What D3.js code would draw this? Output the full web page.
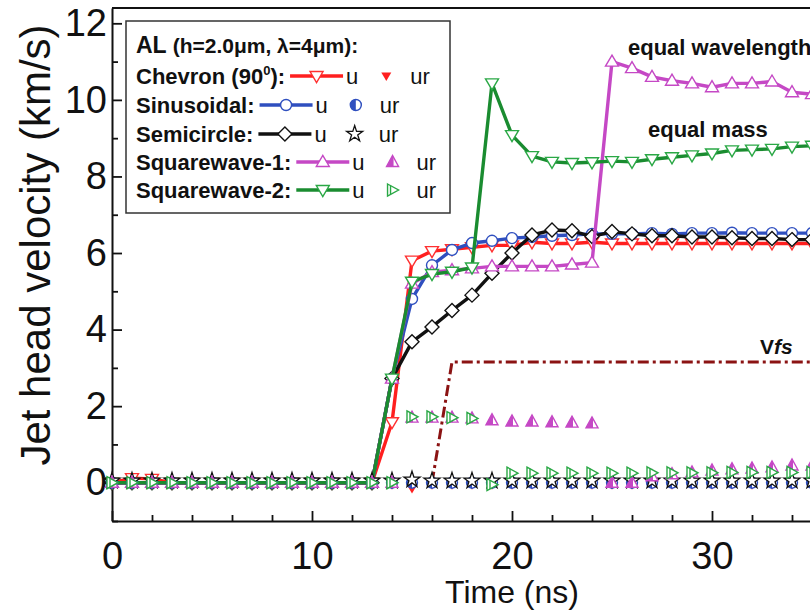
<!DOCTYPE html>
<html>
<head>
<meta charset="utf-8">
<script src="https://cdn.jsdelivr.net/npm/d3@7"></script>
<style>
  body { margin: 0; background: #fff; }
  svg { display: block; font-family: Arial, "Liberation Sans", sans-serif; }
</style>
</head>
<body>
<svg id="chart" width="810" height="611"></svg>
<script>
//-------------------- data ---------------
// time steps, ns
var time = [0,1,2,3,4,5,6,7,8,9,10,11,12,13,14,15,16,17,18,19,20,21,22,23,24,25,26,27,28,29,30,31,32,33,34,35];

// jet head velocity u (km/s)
var chevronU     = [0,0.12,0.1,0,0,0,0,0,0,0,0,0,0,0, 1.58,5.8,6.05,6.1,6.15,6.2,6.2,6.28,6.25,6.25,6.28,6.25,6.25,6.25,6.25,6.25,6.25,6.25,6.25,6.25,6.25,6.25];
var sinusoidalU  = [0,0,0,0,0,0,0,0,0,0,0,0,0,0, 2.72,4.8,5.68,6.08,6.26,6.32,6.39,6.42,6.45,6.47,6.5,6.5,6.5,6.52,6.5,6.52,6.52,6.53,6.52,6.52,6.52,6.52];
var semicircleU  = [0,0,0,0,0,0,0,0,0,0,0,0,0,0, 2.72,3.68,4.07,4.5,4.9,5.47,6.0,6.47,6.6,6.58,6.43,6.56,6.5,6.45,6.45,6.42,6.42,6.4,6.38,6.38,6.35,6.35];
var squarewave1U = [0,0,0,0,0,0,0,0,0,0,0,0,0,0, 2.72,5.2,5.5,5.55,5.6,5.65,5.65,5.65,5.65,5.7,5.75,11.0,10.83,10.6,10.5,10.43,10.33,10.43,10.43,10.48,10.2,10.15];
var squarewave2U = [0,0,0,0,0,0,0,0,0,0,0,0,0,0, 2.72,5.25,5.45,5.51,5.62,10.43,9.08,8.53,8.38,8.35,8.37,8.4,8.38,8.45,8.5,8.55,8.6,8.68,8.7,8.72,8.78,8.8];

// ur (km/s)
var chevronUr     = [-0.05,-0.05,-0.05,-0.05,-0.05,-0.05,-0.05,-0.05,-0.05,-0.05,-0.05,-0.05,-0.05,-0.05,-0.05,-0.15,-0.05,-0.05,-0.05,-0.05,-0.05,-0.05,-0.05,-0.05,-0.05,-0.05,-0.05,-0.05,-0.05,-0.05,-0.05,-0.05,-0.05,-0.05,-0.05,-0.05];
var sinusoidalUr  = [0,0,0,0,0,0,0,0,0,0,0,0,0,0,0,0,0,0,0,0,0,0,0,0,0,0,0,0,0,0,0,0,0,0,0,0];
var semicircleUr  = [0.05,0.05,0.05,0.05,0.05,0.05,0.05,0.05,0.05,0.05,0.05,0.05,0.05,0.05,0.05,0.08,0.05,0.05,0.05,0.05,0.05,0.05,0.05,0.05,0.05,0.05,0.05,0.05,0.05,0.05,0.05,0.05,0.05,0.05,0.05,0.05];
var squarewave1Ur = [0,0,0,0,0,0,0,0,0,0,0,0,0,0,0, 1.7,1.7,1.7,1.68,1.63,1.6,1.6,1.58,1.57,1.55,0,0,0.17,0.22,0.27,0.32,0.35,0.37,0.4,0.45,0.45];
var squarewave2Ur = [0,0,0,0,0,0,0,0,0,0,0,0,0,0,0, 1.72,1.72,1.7,1.68,-0.05,0.25,0.25,0.25,0.25,0.25,0.25,0.25,0.26,0.26,0.26,0.26,0.27,0.27,0.27,0.27,0.27];

// free-surface velocity Vfs
var vfsTime  = [16, 17, 40];
var vfsValue = [0, 3.15, 3.15];

var xTicks = [0, 10, 20, 30];
var xMinor = [2,4,6,8,12,14,16,18,22,24,26,28,32,34,36,38];
var yTicks = [0, 2, 4, 6, 8, 10, 12];
var yMinor = [-1, 1, 3, 5, 7, 9, 11];

//-------------------- setup ---------------
var svg = d3.select("#chart");
var x = d3.scaleLinear().domain([0, 40]).range([112, 912]);
var y = d3.scaleLinear().domain([-1, 12.4]).range([521, 8]);

var RED = "#ff1f1f", BLUE = "#2f4fbf", BLACK = "#111111",
    MAGENTA = "#c548c5", GREEN = "#1a8c30", GREEN_M = "#2aa845", VFS = "#8b1313";

//-------------------- markers ---------------
function marker(g, kind, color) {
  if (kind == "triDown") {
    g.append("path").attr("d", "M-6.5,-4.5L6.5,-4.5L0,6.5Z")
      .attr("fill", "#fff").attr("stroke", color).attr("stroke-width", 1.4);
  } else if (kind == "triUp") {
    g.append("path").attr("d", "M-6.5,4.5L6.5,4.5L0,-6.5Z")
      .attr("fill", "#fff").attr("stroke", color).attr("stroke-width", 1.4);
  } else if (kind == "circle") {
    g.append("circle").attr("r", 5.5)
      .attr("fill", "#fff").attr("stroke", color).attr("stroke-width", 1.4);
  } else if (kind == "diamond") {
    g.append("path").attr("d", "M0,-7L7,0L0,7L-7,0Z")
      .attr("fill", "#fff").attr("stroke", color).attr("stroke-width", 1.4);
  } else if (kind == "triDownFill") {
    g.append("path").attr("d", "M-5,-3.5L5,-3.5L0,5Z").attr("fill", color);
  } else if (kind == "circleHalf") {
    g.append("circle").attr("r", 5.5)
      .attr("fill", "#fff").attr("stroke", color).attr("stroke-width", 1.4);
    g.append("path").attr("d", "M0,-5.5A5.5,5.5 0 0 0 0,5.5Z").attr("fill", color);
  } else if (kind == "star") {
    g.append("path").attr("d", d3.symbol().type(d3.symbolStar).size(80)())
      .attr("fill", "#fff").attr("stroke", color).attr("stroke-width", 1.3);
  } else if (kind == "triUpHalf") {
    g.append("path").attr("d", "M-6,4.5L6,4.5L0,-6.5Z")
      .attr("fill", "#fff").attr("stroke", color).attr("stroke-width", 1.4);
    g.append("path").attr("d", "M-6,4.5L1,4.5L1,-5L0,-6.5Z").attr("fill", color);
  } else if (kind == "triRight") {
    g.append("path").attr("d", "M-5,-6L6,0L-5,6Z")
      .attr("fill", "#fff").attr("stroke", color).attr("stroke-width", 1.4);
    g.append("path").attr("d", "M-2,-4.3L-2,4.3").attr("stroke", color).attr("stroke-width", 1.4);
  }
}

//-------------------- axes ---------------
var axisColor = "#111";

svg.append("g").attr("class", "axis")
    .attr("transform", "translate(0," + y(-1) + ")")
    .call(d3.axisBottom(x).tickValues(xTicks).tickSize(-10).tickSizeOuter(0).tickPadding(21));
svg.append("g")
    .attr("transform", "translate(0," + y(-1) + ")")
    .call(d3.axisBottom(x).tickValues(xMinor).tickSize(-6).tickFormat(""))
    .call(g => g.select(".domain").remove());

svg.append("g").attr("class", "axis")
    .attr("transform", "translate(" + x(0) + ",0)")
    .call(d3.axisLeft(y).tickValues(yTicks).tickSize(-10).tickSizeOuter(0).tickPadding(5));
svg.append("g")
    .attr("transform", "translate(" + x(0) + ",0)")
    .call(d3.axisLeft(y).tickValues(yMinor).tickSize(-6).tickFormat(""))
    .call(g => g.select(".domain").remove());

// frame top / right
svg.append("line").attr("x1", x(0)).attr("x2", x(40)).attr("y1", y(12.4)).attr("y2", y(12.4))
   .attr("stroke", axisColor).attr("stroke-width", 2);
svg.append("line").attr("x1", x(40)).attr("x2", x(40)).attr("y1", y(12.4)).attr("y2", y(-1))
   .attr("stroke", axisColor).attr("stroke-width", 2);

svg.selectAll("g line").attr("stroke", axisColor).attr("stroke-width", 1.8);
svg.selectAll(".domain").attr("stroke", axisColor).attr("stroke-width", 2);
svg.selectAll(".axis text").style("font-size", "38px")
   .style("font-family", "Arial, 'Liberation Sans', sans-serif").attr("fill", "#111");

// axis titles
svg.append("text")
    .attr("transform", "translate(50,245) rotate(-90)")
    .style("text-anchor", "middle").style("font-size", "42px").attr("fill", "#111")
    .text("Jet head velocity (km/s)");
svg.append("text")
    .attr("x", x(20)).attr("y", 603)
    .style("text-anchor", "middle").style("font-size", "32px").attr("fill", "#111")
    .text("Time (ns)");

//-------------------- series ---------------
var uSeries = [
  {name: "Chevron (90", values: chevronU, color: RED, mcolor: "#ff3030", kind: "triDown"},
  {name: "Sinusoidal:", values: sinusoidalU, color: BLUE, mcolor: BLUE, kind: "circle"},
  {name: "Semicircle:", values: semicircleU, color: BLACK, mcolor: BLACK, kind: "diamond"},
  {name: "Squarewave-1:", values: squarewave1U, color: MAGENTA, mcolor: MAGENTA, kind: "triUp"},
  {name: "Squarewave-2:", values: squarewave2U, color: GREEN, mcolor: GREEN_M, kind: "triDown"}
];
var urSeries = [
  {values: chevronUr, color: RED, kind: "triDownFill"},
  {values: sinusoidalUr, color: BLUE, kind: "circleHalf"},
  {values: semicircleUr, color: BLACK, kind: "star"},
  {values: squarewave1Ur, color: MAGENTA, kind: "triUpHalf"},
  {values: squarewave2Ur, color: GREEN_M, kind: "triRight"}
];

var line = d3.line()
    .x(function(d, i) { return x(time[i]); })
    .y(function(d) { return y(d); });

// Vfs dash-dot
svg.append("path")
    .datum(vfsValue)
    .attr("d", d3.line().x(function(d, i) { return x(vfsTime[i]); }).y(function(d) { return y(d); }))
    .attr("fill", "none").attr("stroke", VFS).attr("stroke-width", 3)
    .attr("stroke-dasharray", "11,4,3,4");

uSeries.forEach(function(s) {
  var g = svg.append("g");
  g.append("path").datum(s.values).attr("d", line)
    .attr("fill", "none").attr("stroke", s.color).attr("stroke-width", 3.4)
    .attr("stroke-linejoin", "round");
  s.values.forEach(function(v, i) {
    marker(g.append("g").attr("transform", "translate(" + x(time[i]) + "," + y(v) + ")"), s.kind, s.mcolor);
  });
});

urSeries.forEach(function(s) {
  var g = svg.append("g");
  s.values.forEach(function(v, i) {
    marker(g.append("g").attr("transform", "translate(" + x(time[i]) + "," + y(v) + ")"), s.kind, s.color);
  });
});

// annotations
svg.append("text").attr("x", 628).attr("y", 55)
   .style("font-size", "22px").style("font-weight", "bold").attr("fill", "#111")
   .text("equal wavelength");
svg.append("text").attr("x", 648).attr("y", 137)
   .style("font-size", "22px").style("font-weight", "bold").attr("fill", "#111")
   .text("equal mass");
var vfsLabel = svg.append("text").attr("x", 760).attr("y", 354)
   .style("font-size", "21px").style("font-weight", "bold").attr("fill", "#111");
vfsLabel.append("tspan").text("V");
vfsLabel.append("tspan").style("font-style", "italic").text("fs");

//-------------------- legend ---------------
var legend = svg.append("g");
legend.append("rect").attr("x", 126).attr("y", 21).attr("width", 324).attr("height", 192)
  .attr("fill", "#fff").attr("stroke", "#333").attr("stroke-width", 1.5);

var title = legend.append("text").attr("x", 136).attr("y", 53)
  .style("font-weight", "bold").attr("fill", "#111");
title.append("tspan").style("font-size", "23px").text("AL ");
title.append("tspan").style("font-size", "21px").text("(h=2.0μm, λ=4μm):");

var rowY = [84, 113, 142, 170, 198];
uSeries.forEach(function(s, i) {
  var ty = rowY[i];
  var t = legend.append("text").attr("x", 136).attr("y", ty)
    .style("font-size", "22px").style("font-weight", "bold").attr("fill", "#111");
  t.append("tspan").text(s.name);
  if (i == 0) {
    t.append("tspan").attr("dy", -9).style("font-size", "13px").text("0");
    t.append("tspan").attr("dy", 9).text("):");
  }
  var end = 136 + t.node().getComputedTextLength();
  var lx0 = end + 5, lx1 = end + 58, my = ty - 8;
  legend.append("line").attr("x1", lx0).attr("x2", lx1).attr("y1", my).attr("y2", my)
    .attr("stroke", s.color).attr("stroke-width", 3.5);
  marker(legend.append("g").attr("transform", "translate(" + ((lx0 + lx1) / 2) + "," + my + ")"), s.kind, s.mcolor);
  var u = legend.append("text").attr("x", lx1 + 3).attr("y", ty)
    .style("font-size", "22px").attr("fill", "#111").text("u");
  var uEnd = lx1 + 3 + u.node().getComputedTextLength();
  var mx = uEnd + 28;
  marker(legend.append("g").attr("transform", "translate(" + mx + "," + my + ")"), urSeries[i].kind, urSeries[i].color);
  legend.append("text").attr("x", mx + 24).attr("y", ty)
    .style("font-size", "22px").attr("fill", "#111").text("ur");
});
</script>
</body>
</html>
